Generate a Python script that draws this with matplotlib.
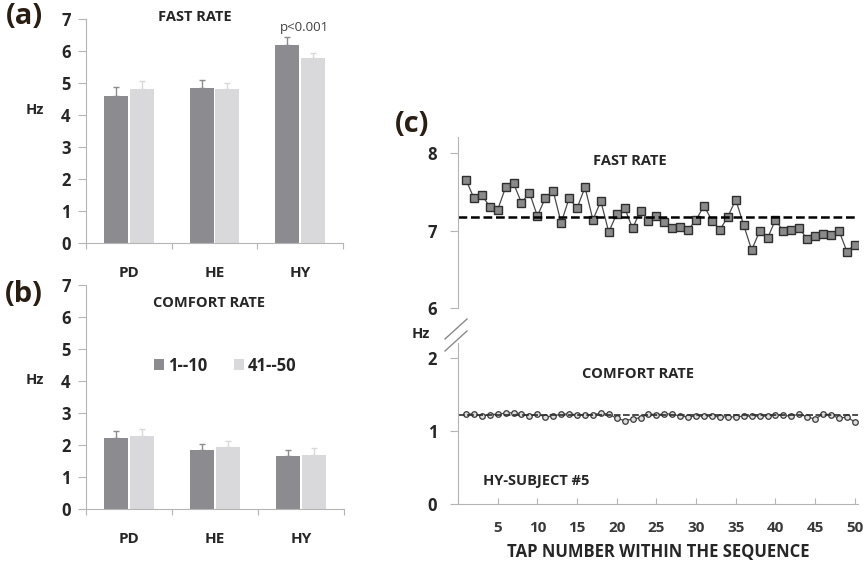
import numpy as np
import matplotlib
matplotlib.use("Agg")
import matplotlib.pyplot as plt
from matplotlib.lines import Line2D

plt.rcParams['font.family'] = ['Open Sans', 'DejaVu Sans']
plt.rcParams['font.weight'] = 'bold'
plt.rcParams['axes.labelweight'] = 'bold'

# ---- data ----
groups = ['PD', 'HE', 'HY']
series_names = ['1--10', '41--50']

fast_first = [4.58, 4.84, 6.19]
fast_last = [4.81, 4.81, 5.78]
fast_first_err = [0.28, 0.24, 0.26]
fast_last_err = [0.25, 0.19, 0.17]

comfort_first = [2.23, 1.84, 1.67]
comfort_last = [2.29, 1.93, 1.70]
comfort_first_err = [0.21, 0.19, 0.17]
comfort_last_err = [0.22, 0.18, 0.20]

taps = list(range(1, 51))
fast_taps = [7.66, 7.42, 7.46, 7.31, 7.27, 7.56, 7.61, 7.36, 7.49, 7.19,
             7.42, 7.51, 7.10, 7.42, 7.29, 7.56, 7.14, 7.38, 6.98, 7.22,
             7.29, 7.03, 7.26, 7.12, 7.19, 7.11, 7.03, 7.05, 7.01, 7.14,
             7.32, 7.13, 7.01, 7.18, 7.40, 7.07, 6.75, 6.99, 6.90, 7.14,
             6.99, 7.01, 7.03, 6.89, 6.93, 6.95, 6.94, 7.00, 6.73, 6.82]
fast_mean = 7.18
comfort_taps = [1.23, 1.23, 1.20, 1.22, 1.23, 1.24, 1.25, 1.23, 1.20, 1.23,
                1.19, 1.20, 1.23, 1.23, 1.22, 1.22, 1.22, 1.24, 1.23, 1.17,
                1.14, 1.16, 1.18, 1.23, 1.22, 1.23, 1.23, 1.20, 1.19, 1.20,
                1.20, 1.20, 1.19, 1.19, 1.19, 1.20, 1.20, 1.20, 1.20, 1.22,
                1.21, 1.20, 1.23, 1.19, 1.16, 1.23, 1.22, 1.17, 1.19, 1.12]
comfort_mean = 1.21

DARK = '#8c8c90'
LIGHT = '#d9d9db'
SPINE = '#b5b5b5'
TXT = '#262626'
BOLD = 'bold'
TITLE_FS = 10.5
TICK_FS = 12
PANEL_FS = 21

W, H = 866, 565
fig = plt.figure(figsize=(W / 100, H / 100), dpi=100)


def rect(l, t, r, b):
    return [l / W, 1 - b / H, (r - l) / W, (b - t) / H]


def bar_panel(ax, first, last, first_err, last_err):
    x = np.arange(len(groups))
    w = 0.28
    ax.bar(x - 0.15, first, w, color=DARK, label=series_names[0])
    ax.bar(x + 0.15, last, w, color=LIGHT, label=series_names[1])
    ax.errorbar(x - 0.15, first, yerr=[np.zeros(3), first_err], fmt='none',
                ecolor=DARK, elinewidth=1, capsize=2)
    ax.errorbar(x + 0.15, last, yerr=[np.zeros(3), last_err], fmt='none',
                ecolor=LIGHT, elinewidth=1, capsize=2)
    ax.set_xlim(-0.5, 2.5)
    ax.set_ylim(0, 7)
    for s in ['top', 'right']:
        ax.spines[s].set_visible(False)
    for s in ['left', 'bottom']:
        ax.spines[s].set_color(SPINE)
    ax.set_xticks([-0.5, 0.5, 1.5, 2.5])
    ax.set_xticklabels([])
    ax.tick_params(axis='x', length=4, color=SPINE)
    for i, g in enumerate(groups):
        ax.annotate(g, xy=(i, 0), xycoords=('data', 'axes fraction'),
                    xytext=(0, -21.5), textcoords='offset points',
                    ha='center', va='center', fontsize=11, color=TXT,
                    fontweight=BOLD)
    ax.set_yticks(range(8))
    ax.set_yticklabels([str(v) for v in range(8)], fontweight=BOLD)
    ax.tick_params(axis='y', length=6, color=SPINE, pad=5, labelsize=TICK_FS,
                   labelcolor=TXT)


# ---- (a) fast rate ----
ax_a = fig.add_axes(rect(86, 19, 343, 243))
bar_panel(ax_a, fast_first, fast_last, fast_first_err, fast_last_err)
fig.text(195 / W, 1 - 17 / H, 'FAST RATE', ha='center', va='center',
         fontsize=TITLE_FS, color=TXT, fontweight=BOLD)
fig.text(304 / W, 1 - 27 / H, 'p<0.001', ha='center', va='center',
         fontsize=9.5, fontweight='normal', color='#404040')
fig.text(35 / W, 1 - 110 / H, 'Hz', ha='center', va='center', fontsize=10.5,
         color=TXT, fontweight=BOLD)
fig.text(24 / W, 1 - 16 / H, '(a)', ha='center', va='center', fontsize=PANEL_FS,
         color='#2a1e12', fontweight=BOLD)

# ---- (b) comfort rate ----
ax_b = fig.add_axes(rect(86, 285, 344, 509))
bar_panel(ax_b, comfort_first, comfort_last, comfort_first_err, comfort_last_err)
fig.text(209 / W, 1 - 303 / H, 'COMFORT RATE', ha='center', va='center',
         fontsize=TITLE_FS, color=TXT, fontweight=BOLD)
fig.text(35 / W, 1 - 380 / H, 'Hz', ha='center', va='center', fontsize=10.5,
         color=TXT, fontweight=BOLD)
fig.text(24 / W, 1 - 294 / H, '(b)', ha='center', va='center', fontsize=PANEL_FS,
         color='#2a1e12', fontweight=BOLD)
ax_b.legend(loc='center', bbox_to_anchor=(0.54, 0.64), ncol=2, frameon=False,
            handlelength=0.6, handleheight=0.6, handletextpad=0.25,
            columnspacing=1.6, prop={'size': 12, 'weight': 'bold'},
            labelcolor=TXT)

# ---- (c) tap sequence, broken axis ----
ax_t = fig.add_axes(rect(458, 137, 858, 308))
ax_t.plot(taps, fast_taps, color='#4a4a4a', lw=0.9, marker='s', ms=5.5,
          mfc='#8a8a8a', mec='#2e2e2e', mew=1)
ax_t.axhline(fast_mean, color='black', lw=1.8, ls=(0, (3.5, 1.5)))
ax_t.set_xlim(0, 50.4)
ax_t.set_ylim(6, 8.21)
ax_t.set_yticks([6, 7, 8])
ax_t.set_yticklabels(['6', '7', '8'], fontweight=BOLD)
ax_t.set_xticks([])
for s in ['top', 'right', 'bottom']:
    ax_t.spines[s].set_visible(False)
ax_t.spines['left'].set_color(SPINE)
ax_t.tick_params(axis='y', length=6, color=SPINE, pad=9, labelsize=TICK_FS,
                 labelcolor=TXT)
ax_t.text(0.43, 0.86, 'FAST RATE', transform=ax_t.transAxes, ha='center',
          va='center', fontsize=TITLE_FS, color=TXT, fontweight=BOLD)

ax_c = fig.add_axes(rect(458, 343, 858, 504))
ax_c.plot(taps, comfort_taps, color='#4a4a4a', lw=0.9, marker='o', ms=4,
          mfc='#dcdcdc', mec='#3a3a3a', mew=0.9)
ax_c.axhline(comfort_mean, color='#2e2e2e', lw=1.2, ls=(0, (4, 1.5)))
ax_c.set_xlim(0, 50.4)
ax_c.set_ylim(0, 2.2)
ax_c.set_yticks([0, 1, 2])
ax_c.set_yticklabels(['0', '1', '2'], fontweight=BOLD)
ax_c.set_xticks(range(0, 51, 5))
ax_c.set_xticklabels([''] + [str(v) for v in range(5, 51, 5)], fontweight=BOLD)
for s in ['top', 'right']:
    ax_c.spines[s].set_visible(False)
for s in ['left', 'bottom']:
    ax_c.spines[s].set_color(SPINE)
ax_c.tick_params(axis='y', length=6, color=SPINE, pad=9, labelsize=TICK_FS,
                 labelcolor=TXT)
ax_c.tick_params(axis='x', direction='in', length=4, color=SPINE, pad=12,
                 labelsize=11, labelcolor='#3a3a3a')
ax_c.text(0.45, 0.81, 'COMFORT RATE', transform=ax_c.transAxes, ha='center',
          va='center', fontsize=TITLE_FS, color=TXT, fontweight=BOLD)
ax_c.text(0.195, 0.145, 'HY-SUBJECT #5', transform=ax_c.transAxes,
          ha='center', va='center', fontsize=TITLE_FS, color=TXT, fontweight=BOLD)
ax_c.set_xlabel('TAP NUMBER WITHIN THE SEQUENCE', fontsize=12, color=TXT,
                labelpad=6, fontweight=BOLD)

# axis break marks
for dy in (0, 12):
    fig.add_artist(Line2D([445 / W, 467 / W],
                          [1 - (339 + dy) / H, 1 - (319 + dy) / H],
                          color='#8a8a8a', lw=1))
fig.text(421 / W, 1 - 334 / H, 'Hz', ha='center', va='center', fontsize=10.5,
         color=TXT, fontweight=BOLD)
fig.text(412 / W, 1 - 125 / H, '(c)', ha='center', va='center', fontsize=PANEL_FS,
         color='#2a1e12', fontweight=BOLD)

fig.savefig('out.png', dpi=100)
